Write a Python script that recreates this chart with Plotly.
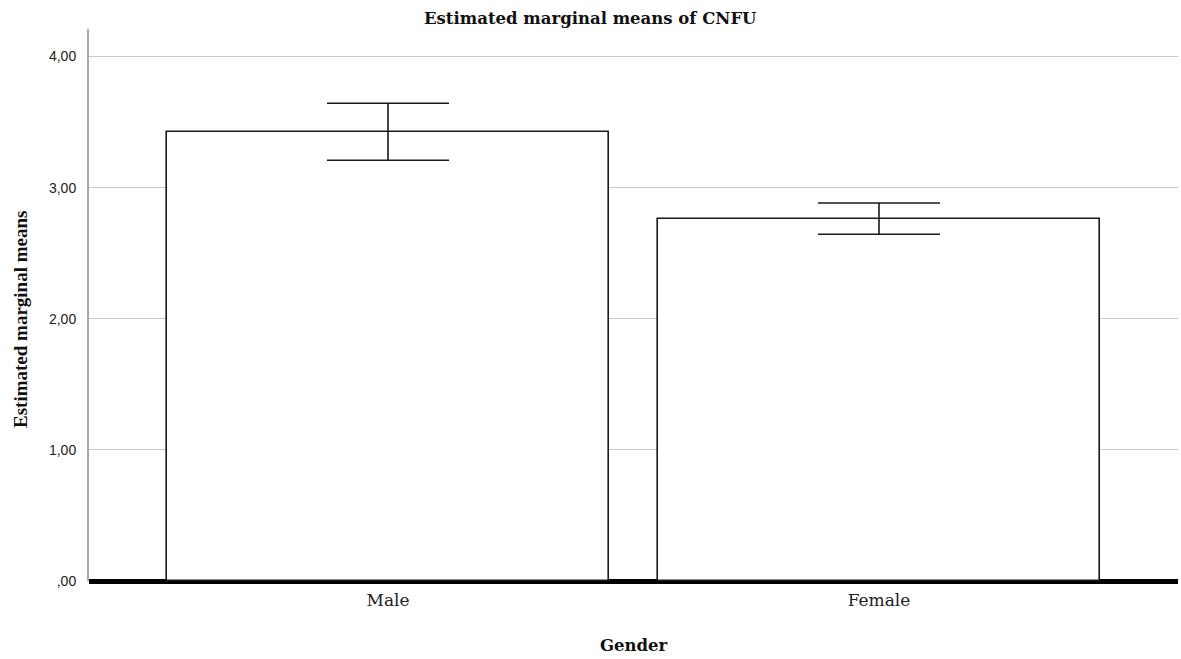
import plotly.graph_objects as go

# Data
categories = ["Male", "Female"]
means = [3.425, 2.761]
ci_upper = [3.644, 2.883]
ci_lower = [3.209, 2.645]
y_tickvals = [0, 1, 2, 3, 4]
y_ticktext = [",00", "1,00", "2,00", "3,00", "4,00"]

err_plus = [u - m for u, m in zip(ci_upper, means)]
err_minus = [m - l for m, l in zip(means, ci_lower)]

W, H = 1181, 659
L, R, T, B = 89, 3, 29, 78
plot_h = H - T - B

SERIF = "DejaVu Serif"

fig = go.Figure()
fig.add_trace(go.Bar(
    x=categories, y=means, width=0.902,
    marker=dict(color="white", line=dict(color="#1a1a1a", width=1.6)),
    error_y=dict(type="data", symmetric=False, array=err_plus, arrayminus=err_minus,
                 color="#1a1a1a", thickness=1.6, width=61),
    showlegend=False, hoverinfo="skip",
))

fig.update_layout(
    width=W, height=H,
    margin=dict(l=L, r=R, t=T, b=B, pad=0),
    paper_bgcolor="white", plot_bgcolor="white",
    bargap=0,
    xaxis=dict(range=[-0.609, 1.609], showgrid=False, showline=False, zeroline=False,
               ticks="", tickfont=dict(family=SERIF, size=17, color="#222"),
               ticklabelstandoff=7),
    yaxis=dict(range=[0, 4.21], tickvals=y_tickvals, ticktext=y_ticktext,
               showgrid=True, gridcolor="#c8c8c8", gridwidth=1,
               showline=True, linecolor="#a8a8a8", linewidth=2,
               zeroline=True, zerolinecolor="black", zerolinewidth=5,
               ticks="", tickfont=dict(family="Liberation Sans", size=14, color="#222"),
               ticklabelstandoff=8),
    annotations=[
        dict(text="<b>Estimated marginal means of CNFU</b>", xref="paper", yref="paper",
             x=(590 - L) / (W - L - R), y=1 + (T - 19) / plot_h, xanchor="center", yanchor="middle",
             showarrow=False, font=dict(family=SERIF, size=16.5, color="#111")),
        dict(text="<b>Gender</b>", xref="paper", yref="paper",
             x=0.5, y=-(645 - (H - B)) / plot_h, xanchor="center", yanchor="middle",
             showarrow=False, font=dict(family=SERIF, size=16.5, color="#111")),
        dict(text="<b>Estimated marginal means</b>", xref="paper", yref="paper",
             x=-(L - 20) / (W - L - R), y=1 - (320 - T) / plot_h, xanchor="center", yanchor="middle",
             textangle=-90, showarrow=False, font=dict(family="Liberation Serif", size=19, color="#111")),
    ],
)

fig.write_html("out.html")
